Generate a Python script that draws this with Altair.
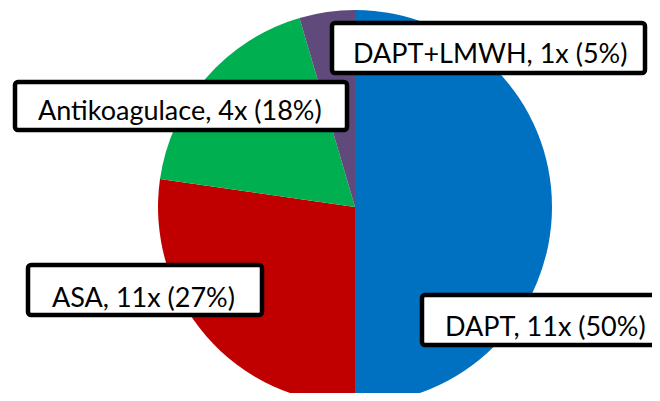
import altair as alt
import pandas as pd

# Data
categories = ["DAPT", "ASA", "Antikoagulace", "DAPT+LMWH"]
counts = [11, 6, 4, 1]
labels = ["DAPT, 11x (50%)", "ASA, 11x (27%)", "Antikoagulace, 4x (18%)", "DAPT+LMWH, 1x (5%)"]
colors = ["#0070C0", "#C00000", "#00B050", "#604A7B"]

# Layout (page pixel coordinates of the hand-placed label boxes)
OFF = 8
box_x1 = [422, 28, 15, 332]
box_x2 = [672, 262, 347, 645]
box_y1 = [295, 265, 82, 23]
box_y2 = [345, 315, 130, 73]
text_x = [445, 52, 38, 353]
text_y = [336, 307, 120, 63]

pie_df = pd.DataFrame({"cat": categories, "n": counts, "ord": list(range(len(categories)))})
lab_df = pd.DataFrame({
    "label": labels,
    "x1": [v - OFF for v in box_x1], "x2": [v - OFF for v in box_x2],
    "y1": [v - OFF for v in box_y1], "y2": [v - OFF for v in box_y2],
    "tx": [v - OFF for v in text_x], "ty": [v - OFF for v in text_y],
})

pie = alt.Chart(pie_df).mark_arc(radius=197, stroke=None).encode(
    theta=alt.Theta("n:Q", stack=True),
    color=alt.Color("cat:N", scale=alt.Scale(domain=categories, range=colors), legend=None),
    order=alt.Order("ord:Q"),
    x=alt.value(355 - OFF),
    y=alt.value(207 - OFF),
)

boxes = alt.Chart(lab_df).mark_rect(fill="white", stroke="black", strokeWidth=4.5, cornerRadius=3).encode(
    x=alt.X("x1:Q", scale=None), x2="x2:Q",
    y=alt.Y("y1:Q", scale=None), y2="y2:Q",
)

texts = alt.Chart(lab_df).mark_text(align="left", baseline="alphabetic", font="Lato", fontSize=27, color="black").encode(
    x=alt.X("tx:Q", scale=None), y=alt.Y("ty:Q", scale=None), text="label:N",
)

chart = alt.layer(pie, boxes, texts).properties(
    width=644, height=385, padding=0,
    autosize=alt.AutoSizeParams(type="none"),
).configure_view(stroke=None)

chart.save("out.html", embed_options={"renderer": "svg", "actions": False})
